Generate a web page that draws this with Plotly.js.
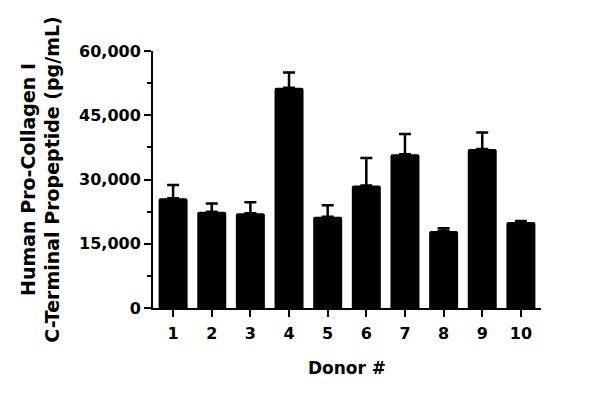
<!DOCTYPE html>
<html>
<head>
<meta charset="utf-8">
<script src="https://cdn.plot.ly/plotly-3.0.1.min.js"></script>
<style>html,body{margin:0;padding:0;background:#fff;}#chart{width:600px;height:396px;}</style>
</head>
<body>
<div id="chart"></div>
<script>
const donors = ['1','2','3','4','5','6','7','8','9','10'];
const meanValues = [25600, 22500, 22100, 51400, 21300, 28600, 35900, 18000, 37100, 20100];
const errorUpper = [3100, 1900, 2600, 3600, 2700, 6400, 4700, 600, 3900, 200];
const yTickValues = [0, 15000, 30000, 45000, 60000];
const yTickLabels = ['0', '15,000', '30,000', '45,000', '60,000'];

const FONT = 'DejaVu Sans, sans-serif';

const trace = {
  type: 'bar',
  x: donors,
  y: meanValues,
  marker: {color: '#000000', line: {width: 0}, cornerradius: 2},
  error_y: {
    type: 'data',
    symmetric: false,
    array: errorUpper,
    arrayminus: meanValues.map(() => 0),
    color: '#000000',
    thickness: 2.5,
    width: 6
  },
  hoverinfo: 'none'
};

const layout = {
  width: 600,
  height: 396,
  margin: {l: 153, r: 59, t: 51, b: 88},
  paper_bgcolor: '#ffffff',
  plot_bgcolor: '#ffffff',
  showlegend: false,
  bargap: 0.25,
  font: {family: FONT, color: '#000000', size: 16, weight: 'bold'},
  xaxis: {
    type: 'category',
    range: [-0.52, 9.52],
    showline: true,
    linecolor: '#000000',
    linewidth: 2,
    ticks: 'outside',
    ticklen: 7,
    tickwidth: 2,
    tickcolor: '#000000',
    ticklabelstandoff: 3,
    showgrid: false,
    zeroline: false,
    tickfont: {family: FONT, size: 16, color: '#000000', weight: 'bold'},
    title: {text: 'Donor #', font: {family: FONT, size: 17, color: '#000000', weight: 'bold'}, standoff: 20}
  },
  yaxis: {
    range: [0, 60000],
    tickvals: yTickValues,
    ticktext: yTickLabels,
    showline: true,
    linecolor: '#000000',
    linewidth: 2,
    ticks: 'outside',
    ticklen: 7,
    tickwidth: 2,
    tickcolor: '#000000',
    showgrid: false,
    zeroline: false,
    minor: {dtick: 7500, tick0: 0, ticks: 'outside', ticklen: 4, tickwidth: 2, tickcolor: '#000000', showgrid: false},
    tickfont: {family: FONT, size: 16, color: '#000000', weight: 'bold'},
    title: {text: 'Human Pro-Collagen I<br>C-Terminal Propeptide (pg/mL)', font: {family: FONT, size: 19, color: '#000000', weight: 'bold'}, standoff: 14}
  }
};

Plotly.newPlot('chart', [trace], layout, {displayModeBar: false, staticPlot: true});
</script>
</body>
</html>
